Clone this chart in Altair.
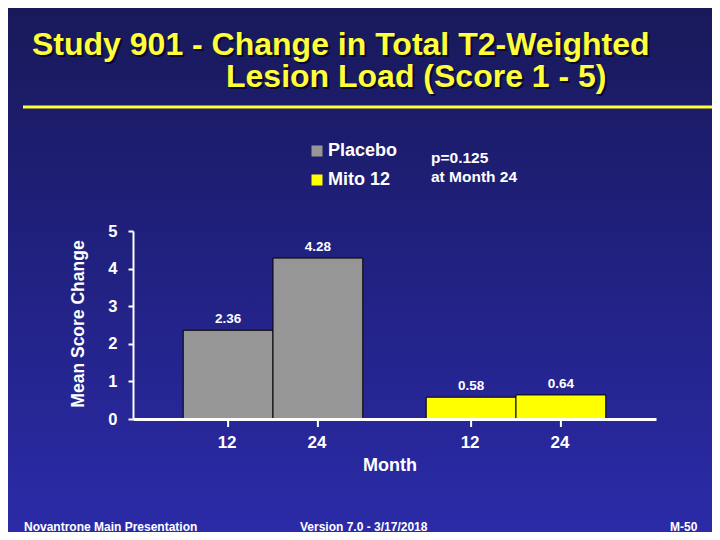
import altair as alt
import pandas as pd

# ---- data ----
groups = ["Placebo", "Placebo", "Mito 12", "Mito 12"]
months = ["12", "24", "12", "24"]
values = [2.36, 4.28, 0.58, 0.64]
labels = ["2.36", "4.28", "0.58", "0.64"]
group_order = ["Placebo", "Mito 12"]
group_colors = ["#969696", "#ffff00"]
y_ticks = [0, 1, 2, 3, 4, 5]

title_line1 = "Study 901 - Change in Total T2-Weighted"
title_line2 = "Lesion Load (Score 1 - 5)"
note_lines = ["p=0.125", "at Month 24"]
footer_left = "Novantrone Main Presentation"
footer_mid = "Version 7.0 - 3/17/2018"
footer_right = "M-50"

df = pd.DataFrame({"group": groups, "month": months, "value": values, "label": labels})

W, H = 523, 188
PL, PT, PR, PB = 125, 223, 56, 113
FONT = "Liberation Sans"

one = alt.Data(values=[{"a": 1}])

bg = alt.Chart(one).mark_rect(
    color=alt.Gradient(
        gradient="linear",
        stops=[alt.GradientStop(color="#19195a", offset=0),
               alt.GradientStop(color="#20207e", offset=0.45),
               alt.GradientStop(color="#2b2ba8", offset=1)],
        x1=0, x2=0, y1=0, y2=1,
    )
).encode(x=alt.value(-PL), x2=alt.value(W + PR), y=alt.value(-PT), y2=alt.value(H + PB))


def txt(text, x, y, size, color="white", weight="bold", align="left", font=FONT, angle=0, baseline="alphabetic"):
    kw = dict(fontSize=size, color=color, fontWeight=weight, align=align, font=font, baseline=baseline)
    if angle:
        kw["angle"] = angle
    return alt.Chart(one).mark_text(**kw).encode(
        x=alt.value(x), y=alt.value(y), text=alt.value(text)
    )


shadow = "#0a0a30"
title_color = "#ffff3a"
TS = 32
titles = (
    txt(title_line1, -101 + 2, -176 + 2, TS, color=shadow)
    + txt(title_line1, -101, -176, TS, color=title_color)
    + txt(title_line2, 93 + 2, -144 + 2, TS, color=shadow)
    + txt(title_line2, 93, -144, TS, color=title_color)
)

rule = alt.Chart(one).mark_rule(color="#ffff3a", strokeWidth=3).encode(
    x=alt.value(-110), x2=alt.value(W + PR), y=alt.value(-124)
)

xscale = alt.Scale(domain=group_order, paddingInner=0.261, paddingOuter=0.2066, align=0.5)
xaxis = alt.Axis(labels=False, ticks=False, title=None, domain=True,
                 domainColor="white", domainWidth=3, zindex=1)
xoff = alt.XOffset("month:N", scale=alt.Scale(paddingInner=0, paddingOuter=0))
yscale = alt.Scale(domain=[0, 5], nice=False)
yaxis = alt.Axis(values=y_ticks, title=None, grid=False, domainColor="white",
                 domainWidth=2, ticks=True, tickColor="white", tickWidth=2, tickSize=5,
                 labelColor="white", labelFont=FONT, labelFontWeight="bold",
                 labelFontSize=16.5, labelPadding=11, labelOverlap=False,
                 labelFlush=False, labelBound=False, zindex=1)


def xenc():
    return alt.X("group:N", scale=xscale, axis=xaxis)


def yenc():
    return alt.Y("value:Q", scale=yscale, axis=yaxis)


bars = alt.Chart(df).mark_bar(stroke="black", strokeWidth=1).encode(
    x=xenc(), xOffset=xoff, y=yenc(),
    color=alt.Color("group:N", scale=alt.Scale(domain=group_order, range=group_colors),
                    legend=alt.Legend(orient="none", legendX=175, legendY=-89, title=None,
                                      symbolType="square", symbolSize=121, symbolStrokeWidth=0,
                                      labelColor="white", labelFont=FONT, labelFontWeight="bold",
                                      labelFontSize=18, rowPadding=11, padding=0, labelOffset=2)),
)

vlabels = alt.Chart(df).mark_text(color="white", font=FONT, fontWeight="bold", fontSize=13.5,
                                  baseline="middle", dy=-11).encode(
    x=xenc(), xOffset=xoff, y=yenc(), text="label:N")

mticks = alt.Chart(df).mark_rule(color="white", strokeWidth=2).encode(
    x=xenc(), xOffset=xoff,
    y=alt.value(H + 2), y2=alt.value(H + 8))

mlabels = alt.Chart(df).mark_text(color="white", font=FONT, fontWeight="bold", fontSize=17,
                                  baseline="middle", dx=-1).encode(
    x=xenc(), xOffset=xoff,
    y=alt.value(H + 24), text="month:N")

annots = (
    txt("Mean Score Change", -54, 93, 17.5, angle=270, align="center", baseline="middle")
    + txt("Month", 257, 235, 18, align="center", baseline="middle")
    + txt(note_lines[0], 298, -73, 15.5, baseline="middle")
    + txt(note_lines[1], 298, -54, 15.5, baseline="middle")
    + txt(footer_left, -109, 295.5, 12, baseline="middle")
    + txt(footer_mid, 167, 295.5, 12, baseline="middle")
    + txt(footer_right, 537, 295.5, 12, baseline="middle")
)

chart = alt.layer(bg, titles, rule, bars, vlabels, mticks, mlabels, annots).properties(
    width=W, height=H,
    autosize=alt.AutoSizeParams(type="none"),
    padding={"left": PL, "top": PT, "right": PR, "bottom": PB},
    background="#1d1d70",
).configure_view(stroke=None)

chart.save("out.html", embed_options={"renderer": "svg", "actions": False})
